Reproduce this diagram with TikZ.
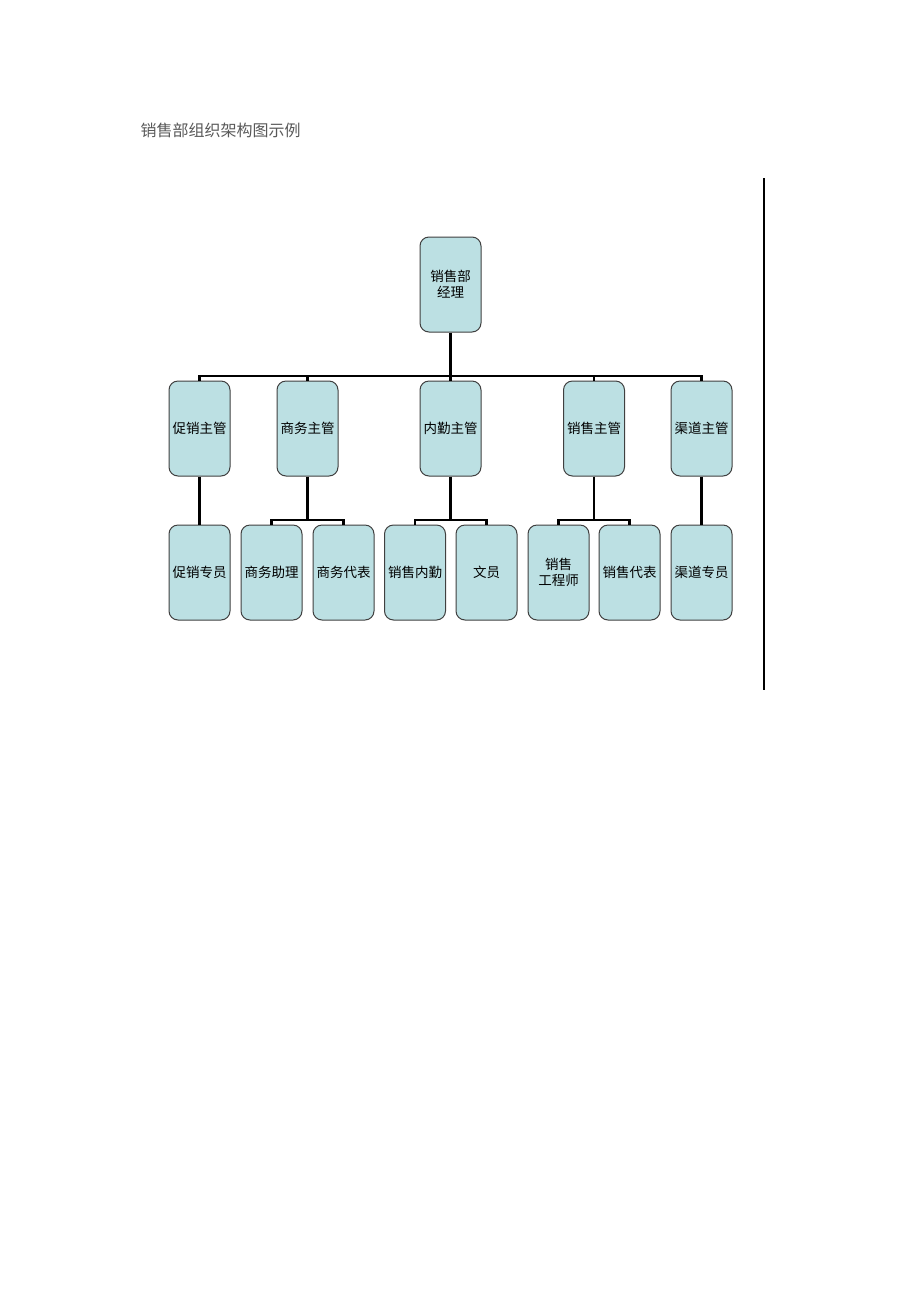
\documentclass[tikz,border=0pt]{standalone}
\usepackage{fontspec}
\newfontfamily\cjk{Noto Sans CJK SC}
\definecolor{boxfill}{HTML}{BCE0E3}
\definecolor{boxline}{HTML}{404040}
\definecolor{titlegray}{HTML}{595959}
\begin{document}
\begin{tikzpicture}[x=1pt, y=-1pt,
    post/.style={draw=boxline, line width=1pt, fill=boxfill, rounded corners=9pt,
        minimum width=61pt, minimum height=95pt, inner sep=1pt, align=center,
        font=\cjk\fontsize{13.5}{16}\selectfont},
    bus/.style={line width=2.5pt, black}]

    \useasboundingbox[fill=white] (0,0) rectangle (920,1302);

    % Title
    \node[anchor=west, text=titlegray, font=\cjk\fontsize{16}{18}\selectfont] (title) at (137,130) {销售部组织架构图示例};

    % Right rule
    \coordinate (ruleTop) at (764,178);
    \coordinate (ruleBot) at (764,690);
    \draw[line width=1.6pt] (ruleTop) -- (ruleBot);

    % Manager
    \node[post] (mgr) at (450.5,284.5) {销售部\\经理};

    % Supervisors
    \node[post] (promo) at (199.5,428.5) {促销主管};
    \node[post] (biz) at (307.5,428.5) {商务主管};
    \node[post] (office) at (450.5,428.5) {内勤主管};
    \node[post] (sales) at (594,428.5) {销售主管};
    \node[post] (chan) at (701.5,428.5) {渠道主管};

    % Staff
    \node[post] (promoA) at (199.5,572.5) {促销专员};
    \node[post] (bizA) at (271.5,572.5) {商务助理};
    \node[post] (bizB) at (343.5,572.5) {商务代表};
    \node[post] (officeA) at (415,572.5) {销售内勤};
    \node[post] (officeB) at (486.5,572.5) {文员};
    \node[post] (salesA) at (558.5,572.5) {销售\\工程师};
    \node[post] (salesB) at (629.5,572.5) {销售代表};
    \node[post] (chanA) at (701.5,572.5) {渠道专员};

    % Bus lines
    \coordinate (hubMgr) at (450.5,376);
    \coordinate (hubBiz) at (307.5,520);
    \coordinate (hubOffice) at (450.5,520);
    \coordinate (hubSales) at (594,520);

    \draw[bus] (mgr) -- (hubMgr);
    \foreach \c in {promo, biz, office, sales, chan}
        \draw[bus] (hubMgr) -| (\c.north);

    \draw[bus] (promo) -- (promoA);
    \draw[bus] (chan) -- (chanA);

    \draw[bus] (biz) -- (hubBiz);
    \draw[bus] (hubBiz) -| (bizA.north);
    \draw[bus] (hubBiz) -| (bizB.north);

    \draw[bus] (office) -- (hubOffice);
    \draw[bus] (hubOffice) -| (officeA.north);
    \draw[bus] (hubOffice) -| (officeB.north);

    \draw[bus] (sales) -- (hubSales);
    \draw[bus] (hubSales) -| (salesA.north);
    \draw[bus] (hubSales) -| (salesB.north);

\end{tikzpicture}
\end{document}
